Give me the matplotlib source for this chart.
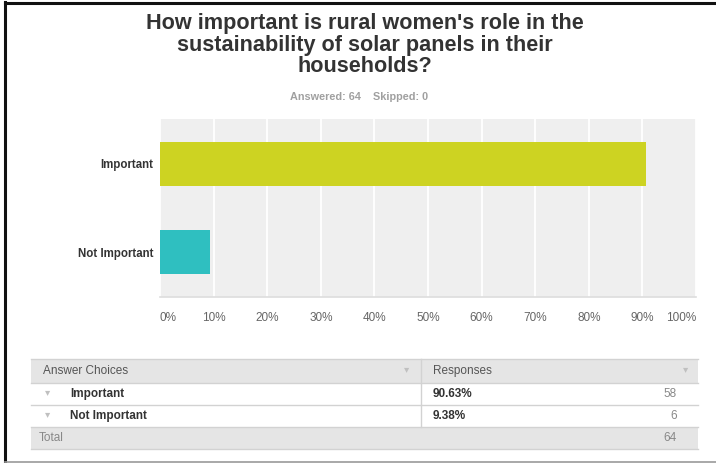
import matplotlib.pyplot as plt
from matplotlib.patches import Rectangle
from matplotlib.ticker import PercentFormatter

# Survey results
choices = ['Important', 'Not Important']
percents = [90.63, 9.38]
counts = [58, 6]
total = 64
skipped = 0
bar_colors = ['#cdd322', '#2fbfc0']

title = "How important is rural women's role in the\nsustainability of solar panels in their\nhouseholds?"

W, H = 716, 463
plt.rcParams['font.family'] = ['Liberation Sans', 'DejaVu Sans']

fig = plt.figure(figsize=(W / 100, H / 100), dpi=100)
fig.patch.set_facecolor('white')

# background layer in pixel coordinates for frame, title and table
bg = fig.add_axes([0, 0, 1, 1])
bg.set_xlim(0, W)
bg.set_ylim(H, 0)
bg.axis('off')

# frame: dark left/top edges, grey bottom
bg.plot([5, 5], [2, H], color='#111111', lw=2.2)
bg.plot([5, W], [2.5, 2.5], color='#111111', lw=2.2)
bg.plot([5, W], [H - 1.5, H - 1.5], color='#9a9a9a', lw=1.2)

bg.text(365, 45, title, ha='center', va='center', fontsize=15.6,
        fontweight='bold', color='#333333', linespacing=1.06)
bg.text(359, 97, f'Answered: {total}    Skipped: {skipped}', ha='center',
        va='center', fontsize=7.8, fontweight='bold', color='#a0a0a0')

# bar chart
px_left, px_right, px_top, px_bottom = 160, 696, 119, 297
ax = fig.add_axes([px_left / W, 1 - px_bottom / H,
                   (px_right - px_left) / W, (px_bottom - px_top) / H])
ax.set_facecolor('#efefef')
ypos = list(range(len(choices)))
ax.barh(ypos, percents, height=0.5, color=bar_colors, zorder=3)
ax.set_xlim(0, 100)
ax.set_ylim(1.511, -0.511)
ax.set_xticks(range(0, 101, 10))
ax.xaxis.set_major_formatter(PercentFormatter(decimals=0))
ax.set_yticks(ypos)
ax.set_yticklabels(choices, fontsize=8.3, fontweight='bold', color='#333333')
ax.tick_params(axis='x', length=0, pad=11, labelsize=8.5, labelcolor='#666666')
ax.tick_params(axis='y', length=0, pad=5)
xlabels = ax.get_xticklabels()
xlabels[0].set_horizontalalignment('left')
xlabels[-1].set_horizontalalignment('right')
ax.grid(axis='x', color='white', lw=1.3, zorder=1)
for side in ['top', 'right', 'left']:
    ax.spines[side].set_visible(False)
ax.spines['bottom'].set_color('#dddddd')
ax.spines['bottom'].set_linewidth(1.2)

# response table
t_left, t_right, t_div = 31, 698, 421
row_edges = [359, 383, 405, 427, 449]
header_bg = '#e5e5e5'
line_c = '#d2d2d2'
fs = 8.5

bg.add_patch(Rectangle((t_left, row_edges[0]), t_right - t_left,
                       row_edges[1] - row_edges[0], color=header_bg, lw=0))
bg.add_patch(Rectangle((t_left, row_edges[3]), t_right - t_left,
                       row_edges[4] - row_edges[3], color=header_bg, lw=0))
for y in row_edges:
    bg.plot([t_left, t_right], [y, y], color=line_c, lw=1)
bg.plot([t_div, t_div], [row_edges[0], row_edges[3]], color=line_c, lw=1)

def mid(i):
    return (row_edges[i] + row_edges[i + 1]) / 2

def caret(x, y):
    bg.text(x, y - 2, '\u25be', va='center', ha='center', fontsize=7.5,
            color='#c0c0c0', family=['DejaVu Sans'])

bg.text(43, mid(0), 'Answer Choices', va='center', fontsize=fs, color='#555555')
bg.text(433, mid(0), 'Responses', va='center', fontsize=fs, color='#555555')
caret(407, mid(0))
caret(686, mid(0))

for i, (name, pct, cnt) in enumerate(zip(choices, percents, counts)):
    y = mid(i + 1)
    caret(48, y)
    bg.text(70, y, name, va='center', fontsize=fs, fontweight='bold', color='#333333')
    bg.text(433, y, f'{pct:.2f}%', va='center', fontsize=fs, fontweight='bold',
            color='#333333')
    bg.text(677, y, str(cnt), va='center', ha='right', fontsize=fs, color='#888888')

bg.text(39, mid(3), 'Total', va='center', fontsize=fs, color='#888888')
bg.text(677, mid(3), str(total), va='center', ha='right', fontsize=fs, color='#888888')

fig.savefig('out.png', dpi=100)
